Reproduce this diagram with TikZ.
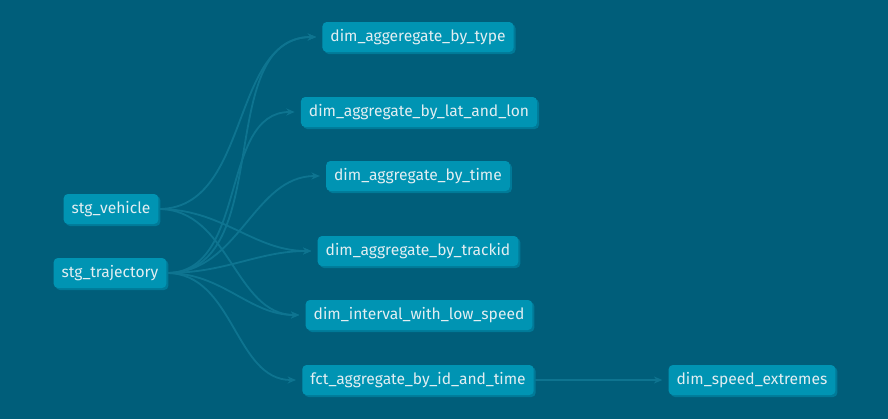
\documentclass[tikz,border=0pt]{standalone}
\usepackage{fontspec}
\setmainfont{Fira Sans}
\usepackage{tikz}
\usetikzlibrary{arrows.meta,shadows,backgrounds}

\definecolor{dbtbg}{RGB}{0,94,122}
\definecolor{dbtnode}{RGB}{0,148,179}
\definecolor{dbtshade}{RGB}{0,122,152}
\definecolor{dbtedge}{RGB}{14,116,144}
\definecolor{dbttext}{RGB}{226,238,242}

\begin{document}
\begin{tikzpicture}[
    model/.style={fill=dbtnode, rounded corners=3pt, text=dbttext,
      minimum height=0.75cm, inner xsep=0.2cm,
      font=\fontsize{11.1}{13}\selectfont,
      general shadow={shadow xshift=0.05cm, shadow yshift=-0.05cm, fill=dbtshade}},
    dep/.style={draw=dbtedge, line width=1.3pt, shorten >=0.15cm,
      -{Stealth[length=6pt,width=5pt]}}
  ]
      \useasboundingbox (0, 0) rectangle (22.2, -10.475);
      % sources
      \node[model] (veh) at (2.775, -5.225) {stg\_vehicle};
      \node[model] (traj) at (2.75, -6.825) {stg\_trajectory};
      % dim / fct models
      \node[model] (bytype) at (10.45, -0.925) {dim\_aggeregate\_by\_type};
      \node[model] (bylatlon) at (10.475, -2.8) {dim\_aggregate\_by\_lat\_and\_lon};
      \node[model] (bytime) at (10.45, -4.4) {dim\_aggregate\_by\_time};
      \node[model] (bytrack) at (10.45, -6.275) {dim\_aggregate\_by\_trackid};
      \node[model] (lowspeed) at (10.475, -7.875) {dim\_interval\_with\_low\_speed};
      \node[model] (byidtime) at (10.45, -9.5) {fct\_aggregate\_by\_id\_and\_time};
      \node[model] (extremes) at (18.8, -9.5) {dim\_speed\_extremes};
      \begin{pgfonlayer}{background}
      \fill[dbtbg] (0, 0) rectangle (22.2, -10.475);
      \draw[dep] (veh.east) to[out=0, in=180] (bytype.west);
      \draw[dep] (veh.east) to[out=0, in=180] (bytrack.west);
      \draw[dep] (veh.east) to[out=0, in=180] (lowspeed.west);
      \draw[dep] (traj.east) to[out=0, in=180] (bytype.west);
      \draw[dep] (traj.east) to[out=0, in=180] (bylatlon.west);
      \draw[dep] (traj.east) to[out=0, in=180] (bytime.west);
      \draw[dep] (traj.east) to[out=0, in=180] (bytrack.west);
      \draw[dep] (traj.east) to[out=0, in=180] (lowspeed.west);
      \draw[dep] (traj.east) to[out=0, in=180] (byidtime.west);
      \draw[dep] (byidtime.east) -- (extremes.west);
      \end{pgfonlayer}
\end{tikzpicture}
\end{document}
